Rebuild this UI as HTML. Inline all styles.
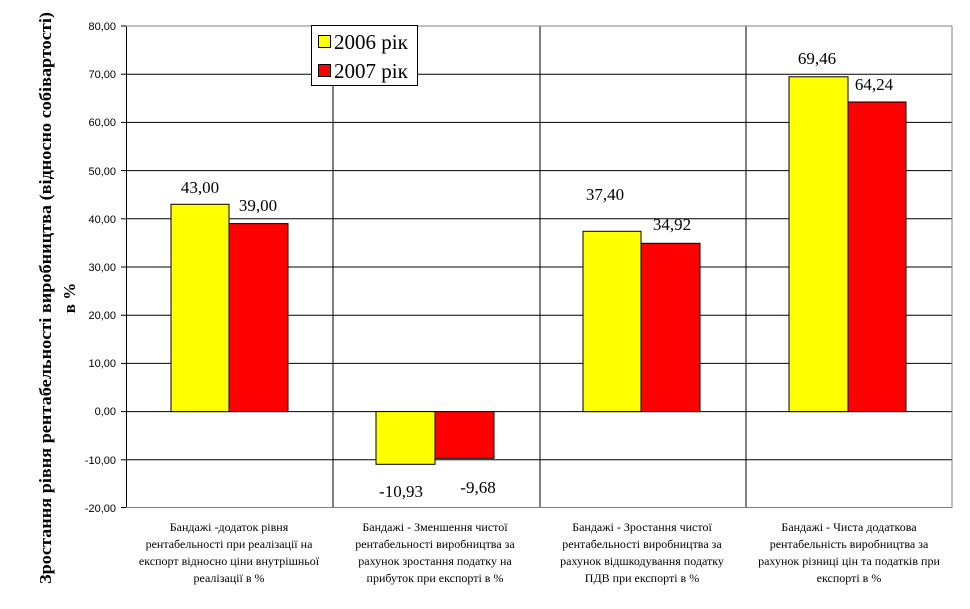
<!DOCTYPE html>
<html><head><meta charset="utf-8"><style>body{margin:0;background:#fff}</style></head><body>
<svg width="970" height="604" xmlns="http://www.w3.org/2000/svg">
<rect width="970" height="604" fill="#fff"/>
<g stroke="#000" stroke-width="1">
<line x1="126" y1="74.2" x2="952" y2="74.2"/>
<line x1="126" y1="122.4" x2="952" y2="122.4"/>
<line x1="126" y1="170.6" x2="952" y2="170.6"/>
<line x1="126" y1="218.8" x2="952" y2="218.8"/>
<line x1="126" y1="267" x2="952" y2="267"/>
<line x1="126" y1="315.2" x2="952" y2="315.2"/>
<line x1="126" y1="363.4" x2="952" y2="363.4"/>
<line x1="126" y1="411.6" x2="952" y2="411.6"/>
<line x1="126" y1="459.8" x2="952" y2="459.8"/>
<line x1="333" y1="26" x2="333" y2="508"/>
<line x1="540" y1="26" x2="540" y2="508"/>
<line x1="746" y1="26" x2="746" y2="508"/>
<line x1="126.5" y1="26" x2="126.5" y2="508"/>
</g>
<g stroke="#808080"><line x1="126" y1="26" x2="952" y2="26"/><line x1="126" y1="507.5" x2="952" y2="507.5"/><line x1="952" y1="26" x2="952" y2="508"/></g>
<g stroke="#000"><line x1="121" y1="26" x2="126" y2="26"/><line x1="121" y1="74.2" x2="126" y2="74.2"/><line x1="121" y1="122.4" x2="126" y2="122.4"/><line x1="121" y1="170.6" x2="126" y2="170.6"/><line x1="121" y1="218.8" x2="126" y2="218.8"/><line x1="121" y1="267" x2="126" y2="267"/><line x1="121" y1="315.2" x2="126" y2="315.2"/><line x1="121" y1="363.4" x2="126" y2="363.4"/><line x1="121" y1="411.6" x2="126" y2="411.6"/><line x1="121" y1="459.8" x2="126" y2="459.8"/><line x1="121" y1="507.5" x2="126" y2="507.5"/></g>
<g font-family="Liberation Sans, sans-serif" font-size="11" text-anchor="end" fill="#000">
<text x="116" y="30">80,00</text><text x="116" y="78">70,00</text><text x="116" y="126">60,00</text><text x="116" y="175">50,00</text><text x="116" y="223">40,00</text><text x="116" y="271">30,00</text><text x="116" y="319">20,00</text><text x="116" y="367">10,00</text><text x="116" y="415">0,00</text><text x="116" y="464">-10,00</text><text x="116" y="512">-20,00</text>
</g>
<g stroke="#000" stroke-width="1">
<rect x="171" y="204.3" width="58" height="207.3" fill="#ffff00"/>
<rect x="229" y="223.6" width="59" height="188" fill="#ff0000"/>
<rect x="376" y="411.6" width="59" height="52.7" fill="#ffff00"/>
<rect x="435" y="411.6" width="59" height="46.7" fill="#ff0000"/>
<rect x="583" y="231.3" width="58" height="180.3" fill="#ffff00"/>
<rect x="641" y="243.3" width="59" height="168.3" fill="#ff0000"/>
<rect x="789" y="76.8" width="59" height="334.8" fill="#ffff00"/>
<rect x="848" y="102" width="58" height="309.6" fill="#ff0000"/>
</g>
<g font-family="Liberation Serif, serif" font-size="17" text-anchor="middle" fill="#000">
<text x="200" y="193">43,00</text><text x="258" y="211">39,00</text>
<text x="401" y="497">-10,93</text><text x="478" y="493">-9,68</text>
<text x="605" y="200">37,40</text><text x="672" y="230">34,92</text>
<text x="817" y="64">69,46</text><text x="874" y="90">64,24</text>
</g>
<g font-family="Liberation Serif, serif" font-size="12" text-anchor="middle" fill="#000">
<text x="229" y="531">Бандажі -додаток рівня</text><text x="229" y="548">рентабельності при реалізації на</text><text x="229" y="565">експорт відносно ціни внутрішньої</text><text x="229" y="582">реалізації в %</text>
<text x="435" y="531">Бандажі - Зменшення чистої</text><text x="435" y="548">рентабельності виробництва за</text><text x="435" y="565">рахунок зростання податку на</text><text x="435" y="582">прибуток при експорті в %</text>
<text x="642" y="531">Бандажі - Зростання чистої</text><text x="642" y="548">рентабельності виробництва за</text><text x="642" y="565">рахунок відшкодування податку</text><text x="642" y="582">ПДВ при експорті в %</text>
<text x="849" y="531">Бандажі - Чиста додаткова</text><text x="849" y="548">рентабельність виробництва за</text><text x="849" y="565">рахунок різниці цін та податків при</text><text x="849" y="582">експорті в %</text>
</g>
<rect x="311.5" y="25.5" width="106" height="60" fill="#fff" stroke="#000"/>
<rect x="318.5" y="35.5" width="12" height="12" fill="#ffff00" stroke="#000"/>
<rect x="318.5" y="64.5" width="12" height="12" fill="#ff0000" stroke="#000"/>
<g font-family="Liberation Serif, serif" font-size="21" fill="#000"><text x="334" y="49">2006 рік</text><text x="334" y="78">2007 рік</text></g>
<g font-family="Liberation Serif, serif" font-size="17" font-weight="bold" text-anchor="middle" fill="#000">
<text transform="translate(51,298) rotate(-90)" textLength="572" lengthAdjust="spacingAndGlyphs">Зростання рівня рентабельності виробництва (відносно собівартості)</text>
<text transform="translate(75,298) rotate(-90)">в %</text>
</g>
</svg>
</body></html>
